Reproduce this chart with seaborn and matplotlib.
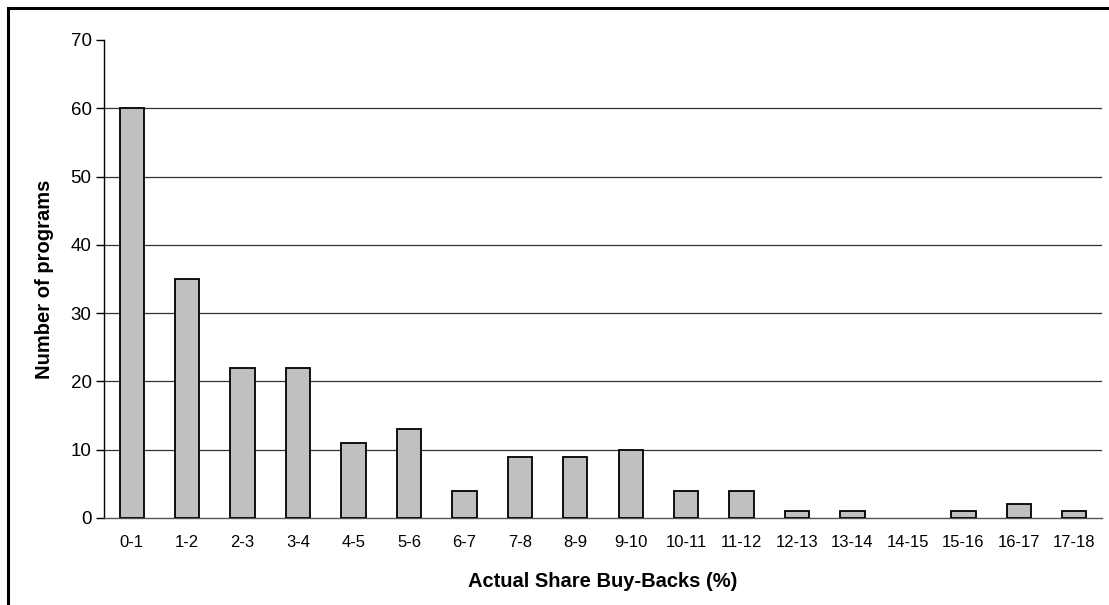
import matplotlib
matplotlib.use("Agg")
import matplotlib.pyplot as plt
import seaborn as sns
import pandas as pd
from matplotlib.patches import Rectangle

# data
categories = ["0-1", "1-2", "2-3", "3-4", "4-5", "5-6", "6-7", "7-8", "8-9", "9-10",
              "10-11", "11-12", "12-13", "13-14", "14-15", "15-16", "16-17", "17-18"]
programs = [60, 35, 22, 22, 11, 13, 4, 9, 9, 10, 4, 4, 1, 1, 0, 1, 2, 1]
y_ticks = [0, 10, 20, 30, 40, 50, 60, 70]

df = pd.DataFrame({"range": categories, "count": programs})

sns.set_style("white")
plt.rcParams["font.family"] = ["Liberation Sans", "DejaVu Sans"]
plt.rcParams["text.color"] = "black"
plt.rcParams["axes.labelcolor"] = "black"
plt.rcParams["xtick.color"] = "black"
plt.rcParams["ytick.color"] = "black"

fig = plt.figure(figsize=(11.09, 6.05), dpi=100)
ax = fig.add_axes([104 / 1109, 1 - 518 / 605, (1102 - 104) / 1109, (518 - 40) / 605])

sns.barplot(data=df, x="range", y="count", color="#C0C0C0", edgecolor="black",
            linewidth=1.3, width=0.44, saturation=1, ax=ax, zorder=3)

# empty bins are not drawn at all
for p in ax.patches:
    if p.get_height() == 0:
        p.set_visible(False)

ax.set_ylim(0, 70)
ax.set_xlim(-0.5, len(categories) - 0.5)
ax.set_yticks(y_ticks)
# gridlines, none at the top of the axis
for t in y_ticks[1:-1]:
    ax.axhline(t, color="#333333", linewidth=0.9, zorder=1)

for s in ["top", "right"]:
    ax.spines[s].set_visible(False)
ax.spines["left"].set_color("black")
ax.spines["left"].set_linewidth(1.0)
ax.spines["bottom"].set_color("#555555")
ax.spines["bottom"].set_linewidth(1.0)

# x ticks sit between categories
ax.set_xticks([i - 0.5 for i in range(len(categories) + 1)], minor=False)
ax.set_xticklabels([])
ax.set_xticks(range(len(categories)), minor=True)
ax.set_xticklabels(categories, minor=True, fontsize=12)
ax.tick_params(axis="x", which="major", direction="out", length=5, width=1, color="#333333")
ax.tick_params(axis="x", which="minor", length=0, pad=12)
ax.tick_params(axis="y", direction="out", length=6, width=1, labelsize=13.5, pad=3,
               left=True, color="black")

ax.set_xlabel("Actual Share Buy-Backs (%)", fontsize=14.5, fontweight="bold", labelpad=16)
ax.set_ylabel("Number of programs", fontsize=14.5, fontweight="bold", labelpad=12)

# outer frame (left and top visible, the rest runs off the picture)
fig.patches.append(Rectangle((8 / 1109, -0.2), 1.2, 1.2 - 7.5 / 605,
                             transform=fig.transFigure, fill=False,
                             edgecolor="black", linewidth=2.2, clip_on=False))

fig.savefig("out.png", dpi=100)
